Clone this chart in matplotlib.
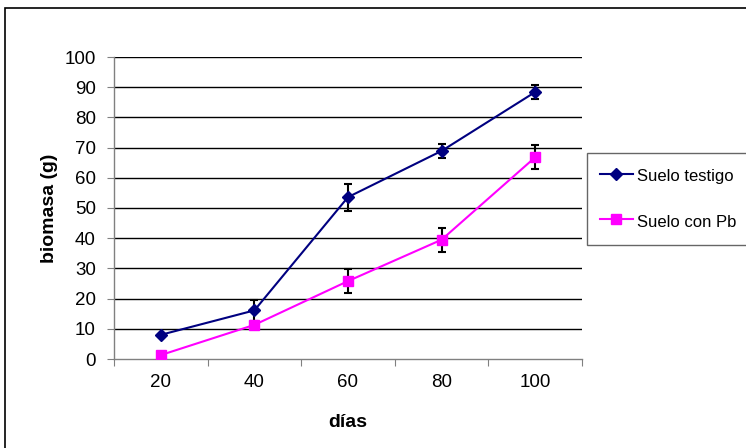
import matplotlib
matplotlib.use('Agg')
import matplotlib.pyplot as plt
from matplotlib.patches import Rectangle

plt.rcParams['font.family'] = ['Liberation Sans', 'DejaVu Sans']

# --- data ---
dias = ['20', '40', '60', '80', '100']
testigo = [8.0, 16.1, 53.6, 68.9, 88.4]
testigo_err = [0.0, 3.4, 4.5, 2.3, 2.2]
con_pb = [1.3, 11.3, 25.8, 39.5, 66.8]
con_pb_err = [0.0, 0.0, 3.9, 4.0, 3.9]
yticks = list(range(0, 101, 10))

W, H = 746, 448
fig = plt.figure(figsize=(W / 100, H / 100), dpi=100)
ax = fig.add_axes([114 / W, 1 - 359 / H, (582 - 114) / W, (359 - 57) / H])

xs = [i + 0.5 for i in range(len(dias))]

# error bars first, lines on top
ax.errorbar(xs, testigo, yerr=testigo_err, fmt='none', ecolor='black',
            elinewidth=1.5, capsize=3.2, capthick=1.5, zorder=3)
ax.errorbar(xs, con_pb, yerr=con_pb_err, fmt='none', ecolor='black',
            elinewidth=1.5, capsize=3.2, capthick=1.5, zorder=3)
ax.plot(xs, testigo, color='#000080', marker='D', markersize=6,
        linewidth=1.5, label='Suelo testigo', zorder=4)
ax.plot(xs, con_pb, color='#FF00FF', marker='s', markersize=6.5,
        linewidth=1.5, label='Suelo con Pb', zorder=4)

ax.set_xlim(0, len(dias))
ax.set_ylim(0, 100)
ax.set_yticks(yticks)
for y in yticks[1:]:
    ax.axhline(y, color='black', linewidth=1, zorder=1)

# category axis: ticks between categories, labels centred
ax.set_xticks(range(len(dias) + 1))
ax.set_xticklabels([])
ax.set_xticks(xs, minor=True)
ax.set_xticklabels(dias, minor=True)
ax.tick_params(axis='x', which='major', length=5, color='#808080', direction='out')
ax.tick_params(axis='x', which='minor', length=0, pad=11, labelsize=13.5)
ax.tick_params(axis='y', length=5, color='#808080', pad=8, labelsize=13.5)

for side in ['top', 'right']:
    ax.spines[side].set_visible(False)
for side in ['left', 'bottom']:
    ax.spines[side].set_color('#808080')
    ax.spines[side].set_linewidth(1)

ax.set_xlabel('días', fontsize=14, fontweight='bold', labelpad=16)
ax.set_ylabel('biomasa (g)', fontsize=14, fontweight='bold', labelpad=5)

leg = ax.legend(loc='upper left', bbox_to_anchor=(587 / W, 1 - 153 / H),
                bbox_transform=fig.transFigure, fontsize=12, frameon=True,
                fancybox=False, edgecolor='#404040', labelspacing=1.53,
                handlelength=2.0, handleheight=1.5, handletextpad=0.24,
                borderpad=0.76, borderaxespad=0)
leg.get_frame().set_linewidth(1)

# outer chart-area border (cropped at right and bottom)
fig.patches.append(Rectangle((5 / W, -0.1), 1.2, 1 - 8 / H + 0.1,
                             transform=fig.transFigure, fill=False,
                             edgecolor='black', linewidth=1.2))

fig.savefig('out.png', dpi=100)
